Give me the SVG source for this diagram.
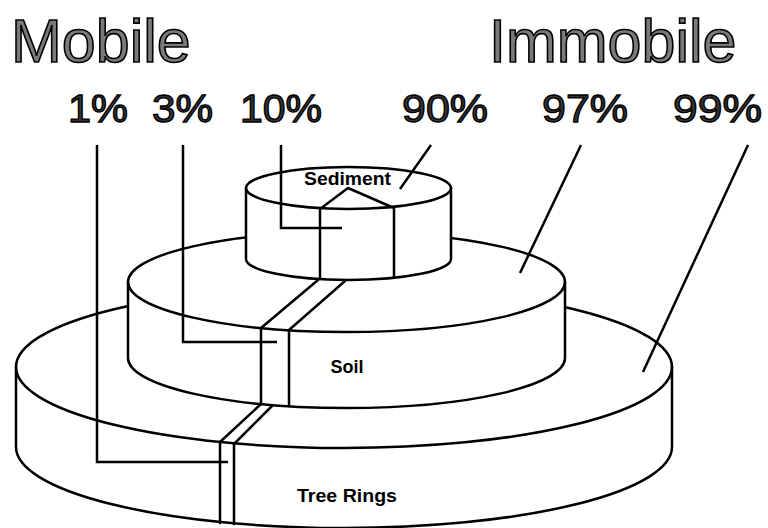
<svg xmlns="http://www.w3.org/2000/svg" width="768" height="528" viewBox="0 0 768 528">
  <style>
    .body { fill: #fff; stroke: #000; stroke-width: 2.5; stroke-linejoin: round; }
    .edge { fill: none; stroke: #000; stroke-width: 2.5; stroke-linecap: round; stroke-linejoin: round; }
    .lead { fill: none; stroke: #000; stroke-width: 2.5; stroke-linecap: butt; }
    .title { font-family: "Liberation Sans", Arial, sans-serif; font-size: 61px; fill: #7a7a7a; stroke: #000; stroke-width: 1.6; }
    .pct { font-family: "Liberation Sans", Arial, sans-serif; font-size: 39px; fill: #333; stroke: #000; stroke-width: 1.3; text-anchor: middle; }
    .name { font-family: "Liberation Sans", Arial, sans-serif; font-size: 18px; font-weight: bold; fill: #000; }
  </style>
  <rect width="768" height="528" fill="#fff"/>

  <!-- lowest, widest tier -->
  <g id="node-tree-rings">
    <path class="body" d="M16,367 L16,447 A328,81 0 0 0 672,447 L672,367 A328,81 0 0 0 16,367 Z"/>
    <path class="edge" d="M16,367 A328,81 0 0 0 672,367"/>
    <path class="edge" d="M261,404 L220,442 M273,405 L234,444 M220,442 L220,523 M234,444 L234,524"/>
    <text class="name" x="347" y="502" text-anchor="middle" textLength="100" lengthAdjust="spacingAndGlyphs">Tree Rings</text>
  </g>

  <!-- middle tier -->
  <g id="node-soil">
    <path class="body" d="M128,282 L128,358 A218.5,50 0 0 0 565,358 L565,282 A218.5,50 0 0 0 128,282 Z"/>
    <path class="edge" d="M128,282 A218.5,50 0 0 0 565,282"/>
    <path class="edge" d="M318,280 L261,328 M345,281 L289,330 M261,328 L261,404 M289,330 L289,406"/>
    <text class="name" x="347" y="373" text-anchor="middle">Soil</text>
  </g>

  <!-- top tier -->
  <g id="node-sediment">
    <path class="body" d="M246,188 L246,259 A102.5,21 0 0 0 451,259 L451,188 A102.5,21 0 0 0 246,188 Z"/>
    <path class="edge" d="M246,188 A102.5,21 0 0 0 451,188"/>
    <path class="edge" d="M320,209 L348,188 L394,208 M320,209 L320,279 M394,208 L394,277"/>
    <text class="name" x="347.5" y="185" text-anchor="middle" textLength="87" lengthAdjust="spacingAndGlyphs">Sediment</text>
  </g>

  <!-- leader lines from the percentages -->
  <g id="connectors">
    <path class="lead" d="M97,145 V462 H228"/>
    <path class="lead" d="M183,145 V342 H277"/>
    <path class="lead" d="M281,145 V228 H342"/>
    <path class="lead" d="M431,145 L400,189"/>
    <path class="lead" d="M581,145 L520,273"/>
    <path class="lead" d="M748,145 L643,372"/>
  </g>

  <g id="heading-mobile">
    <text class="title" x="11" y="62">Mobile</text>
  </g>
  <g id="heading-immobile">
    <text class="title" x="489" y="62">Immobile</text>
  </g>

  <g id="percentages">
    <text class="pct" x="98" y="122" textLength="60" lengthAdjust="spacingAndGlyphs">1%</text>
    <text class="pct" x="182.5" y="122" textLength="61" lengthAdjust="spacingAndGlyphs">3%</text>
    <text class="pct" x="281" y="122" textLength="82" lengthAdjust="spacingAndGlyphs">10%</text>
    <text class="pct" x="445" y="122" textLength="86" lengthAdjust="spacingAndGlyphs">90%</text>
    <text class="pct" x="585" y="122" textLength="86" lengthAdjust="spacingAndGlyphs">97%</text>
    <text class="pct" x="717.5" y="122" textLength="89" lengthAdjust="spacingAndGlyphs">99%</text>
  </g>
</svg>
